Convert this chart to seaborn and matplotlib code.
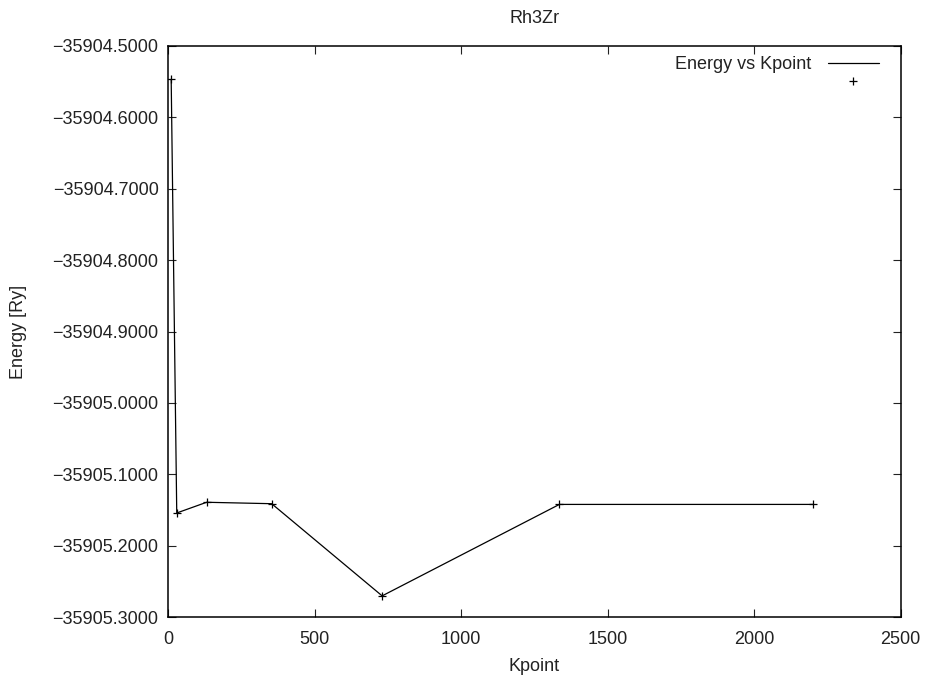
import matplotlib
matplotlib.use("Agg")
import matplotlib.pyplot as plt
import seaborn as sns
import pandas as pd
from matplotlib.ticker import FuncFormatter, MultipleLocator

kpoints = [10, 29, 131, 353, 730, 1335, 2202]
energy = [-35904.547, -35905.154, -35905.139, -35905.141, -35905.270, -35905.142, -35905.142]
title = "Rh3Zr"
series_label = "Energy vs Kpoint"
x_label = "Kpoint"
y_label = "Energy [Ry]"

df = pd.DataFrame({"Kpoint": kpoints, "Energy": energy})

sns.set_theme(style="ticks")
plt.rcParams["font.family"] = ["Liberation Sans", "DejaVu Sans"]

FS = 13
TXT = "#222222"

fig = plt.figure(figsize=(9.26, 6.84), dpi=100)
ax = fig.add_axes([0.1817, 0.0975, 0.9727 - 0.1817, 0.9332 - 0.0975])

sns.lineplot(data=df, x="Kpoint", y="Energy", ax=ax, color="black", lw=0.9,
             label=series_label, sort=False)
sns.lineplot(data=df, x="Kpoint", y="Energy", ax=ax, color="black", ls="none",
             marker="+", markersize=5.5, markeredgewidth=0.9,
             markeredgecolor="black", markerfacecolor="black",
             label=" ", sort=False)

ax.set_xlim(0, 2500)
ax.set_ylim(-35905.3, -35904.5)
ax.xaxis.set_major_locator(MultipleLocator(500))
ax.yaxis.set_major_locator(MultipleLocator(0.1))
ax.yaxis.set_major_formatter(FuncFormatter(lambda v, p: ("%.4f" % v).replace("-", "\u2212")))
ax.xaxis.set_major_formatter(FuncFormatter(lambda v, p: ("%d" % round(v)).replace("-", "\u2212")))
ax.tick_params(direction="in", length=6, width=0.8, top=True, right=True,
               labelsize=FS, colors=TXT)
ax.tick_params(axis="y", pad=7)
ax.tick_params(axis="x", pad=10)
for s in ax.spines.values():
    s.set_visible(True)
    s.set_linewidth(1.1)
    s.set_color("black")

ax.set_title(title, fontsize=FS, color=TXT, y=1.048, va="center", pad=0)
ax.set_xlabel(x_label, fontsize=FS, color=TXT)
ax.xaxis.label.set_verticalalignment("center")
ax.xaxis.set_label_coords(0.5, -0.0852)
ax.set_ylabel(y_label, fontsize=FS, color=TXT)
ax.yaxis.label.set_verticalalignment("center")
ax.yaxis.set_label_coords(-0.2039, 0.5)

leg = ax.legend(loc="upper right", frameon=False, markerfirst=False, fontsize=FS,
                handlelength=2.83, handletextpad=0.9, labelspacing=0.05,
                borderpad=0, borderaxespad=0,
                bbox_to_anchor=(0.9704, 0.982))
for t in leg.get_texts():
    t.set_color(TXT)

fig.savefig("out.png", dpi=100)
